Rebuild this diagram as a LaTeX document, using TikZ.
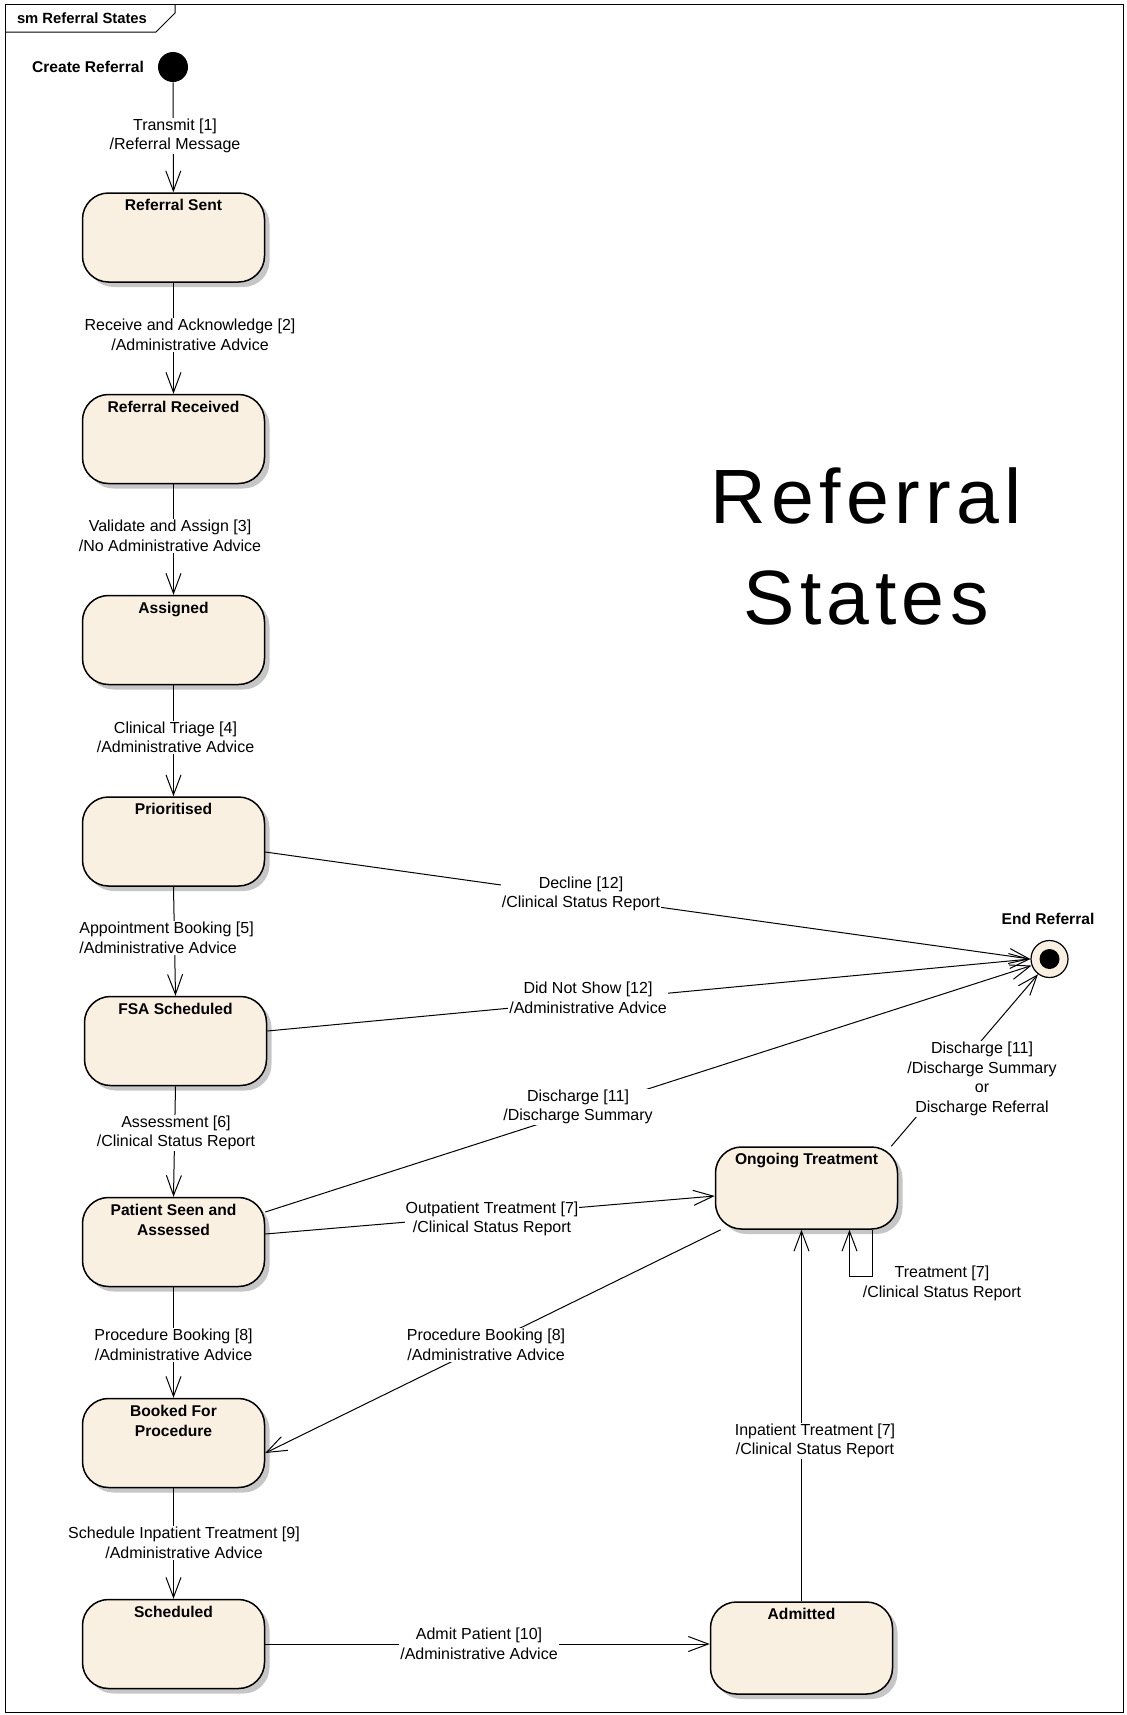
\documentclass[tikz,border=0pt]{standalone}
\usepackage{fontspec}
\setmainfont{Liberation Sans}
\usetikzlibrary{arrows.meta,shadows}

\definecolor{statefill}{RGB}{250,240,226}
\definecolor{shadowgray}{RGB}{198,198,198}

\begin{document}
\begin{tikzpicture}[x=0.5pt,y=-0.5pt,
  state/.style={draw=black, line width=0.75pt, fill=statefill,
    rounded corners=13pt, minimum width=91pt, minimum height=44.5pt, inner sep=0pt,
    drop shadow={shadow xshift=2.5pt, shadow yshift=-2.5pt, fill=shadowgray, opacity=1}},
  stitle/.style={anchor=north, inner sep=0pt, align=center,
    font=\fontsize{7.8}{10}\selectfont\bfseries},
  boldlabel/.style={inner sep=0pt, font=\fontsize{7.8}{10}\selectfont\bfseries},
  tlabel/.style={inner sep=0.5pt, fill=white, align=center,
    font=\fontsize{8}{9.75}\selectfont},
  trans/.style={draw=black, line width=0.5pt, -{Straight Barb[length=10pt,width=7.5pt]}},
  initial/.style={circle, fill=black, minimum size=15pt, inner sep=0pt},
  final/.style={circle, draw=black, line width=0.6pt, fill=statefill, minimum size=18.5pt, inner sep=0pt},
  finaldot/.style={circle, fill=black, minimum size=10pt, inner sep=0pt},
  bigtitle/.style={inner sep=0pt, anchor=base,
    font=\fontsize{38.5}{40}\selectfont\addfontfeature{LetterSpace=7}}
]
\useasboundingbox (0,0) rectangle (1126,1715);

% diagram frame with its name tab
\draw[line width=0.5pt] (5,4) rectangle (1123,1712);
\draw[line width=0.5pt] (5,32) -- (156,32) -- (175,13) -- (175,4);
\node[boldlabel, font=\fontsize{7.4}{9}\selectfont\bfseries] (frame-name) at (82,18) {sm Referral States};

% big heading
\node[bigtitle] (heading-a) at (866,523) {Referral};
\node[bigtitle] (heading-b) at (866,624) {States};

% pseudo-states
\node[initial] (init) at (173,67) {};
\node[boldlabel] (init-name) at (88,67) {Create Referral};
\node[final] (end) at (1049.5,959) {};
\node[finaldot] (end-dot) at (end) {};
\node[boldlabel] (end-name) at (1048,919) {End Referral};

% states
\node[state] (sent)   at (173.5,237.5) {};
\node[state] (recv)   at (173.5,439) {};
\node[state] (asg)    at (173.5,640) {};
\node[state] (prio)   at (173.5,841.5) {};
\node[state] (fsa)    at (175.5,1041) {};
\node[state] (seen)   at (173.5,1242) {};
\node[state] (booked) at (173.5,1443) {};
\node[state] (sched)  at (173.5,1644) {};
\node[state, minimum height=41pt] (ongo) at (806.5,1188) {};
\node[state, minimum height=46pt] (adm)  at (801.5,1648) {};

\node[stitle] (sent-t)   at ([yshift=-3.3pt]sent.north)   {Referral Sent};
\node[stitle] (recv-t)   at ([yshift=-3.3pt]recv.north)   {Referral Received};
\node[stitle] (asg-t)    at ([yshift=-3.3pt]asg.north)    {Assigned};
\node[stitle] (prio-t)   at ([yshift=-3.3pt]prio.north)   {Prioritised};
\node[stitle] (fsa-t)    at ([yshift=-3.3pt]fsa.north)    {FSA Scheduled};
\node[stitle] (seen-t)   at ([yshift=-3.3pt]seen.north)   {Patient Seen and\\Assessed};
\node[stitle] (booked-t) at ([yshift=-3.3pt]booked.north) {Booked For\\Procedure};
\node[stitle] (sched-t)  at ([yshift=-3.3pt]sched.north)  {Scheduled};
\node[stitle] (ongo-t)   at ([yshift=-3.3pt]ongo.north)   {Ongoing Treatment};
\node[stitle] (adm-t)    at ([yshift=-3.3pt]adm.north)    {Admitted};

% main referral path
\draw[trans] (init) -- (sent);
\draw[trans] (sent) -- (recv);
\draw[trans] (recv) -- (asg);
\draw[trans] (asg) -- (prio);
\draw[trans] (prio.south) -- (fsa.north);
\draw[trans] (fsa.south) -- (seen.north);
\draw[trans] (seen) -- (booked);
\draw[trans] (booked) -- (sched);

% transitions to the end state
\draw[trans] ([yshift=-5.25pt]prio.east) -- (end.west);
\draw[trans] ([yshift=5pt]fsa.east) -- (end.west);
\draw[trans] ([yshift=15pt]seen.east) -- (end.200);
\draw[trans] ([xshift=-3.5pt]ongo.north east) -- (end.233);

% treatment branch
\draw[trans] ([yshift=4pt]seen.east) -- ([yshift=-4pt]ongo.west);
\draw[trans] ([xshift=3pt]ongo.south west) -- ([yshift=-5pt]booked.east);
\draw[trans] (sched.east) -- (sched.east -| adm.west);
\draw[trans] (adm.north) -- (adm.north |- ongo.south);
\draw[trans] ([xshift=33pt]ongo.south) |- ([xshift=21.5pt,yshift=-23.3pt]ongo.south)
  -- ([xshift=21.5pt]ongo.south);

% transition labels
\node[tlabel] (l-transmit) at (175,136) {Transmit [1]\\/Referral Message};
\node[tlabel] (l-receive)  at (190,335) {Receive and Acknowledge [2]\\/Administrative Advice};
\node[tlabel] (l-validate) at (170,536) {Validate and Assign [3]\\/No Administrative Advice};
\node[tlabel] (l-triage)   at (175.5,737.5) {Clinical Triage [4]\\/Administrative Advice};
\node[tlabel, anchor=west, align=left] (l-appoint) at (78,938) {Appointment Booking [5]\\/Administrative Advice};
\node[tlabel] (l-assess)   at (176,1133) {Assessment [6]\\/Clinical Status Report};
\node[tlabel] (l-procv)    at (173.5,1345) {Procedure Booking [8]\\/Administrative Advice};
\node[tlabel] (l-schedip)  at (184,1543) {Schedule Inpatient Treatment [9]\\/Administrative Advice};
\node[tlabel] (l-decline)  at (581,894) {Decline [12]\\/Clinical Status Report};
\node[tlabel] (l-dns)      at (588,998) {Did Not Show [12]\\/Administrative Advice};
\node[tlabel] (l-disch1)   at (578,1107) {Discharge [11]\\/Discharge Summary};
\node[tlabel] (l-outpat)   at (492,1219) {Outpatient Treatment [7]\\/Clinical Status Report};
\node[tlabel] (l-disch2)   at (982,1079) {Discharge [11]\\/Discharge Summary\\or\\Discharge Referral};
\node[tlabel] (l-procd)    at (486,1345) {Procedure Booking [8]\\/Administrative Advice};
\node[tlabel] (l-inpat)    at (815,1441) {Inpatient Treatment [7]\\/Clinical Status Report};
\node[tlabel, fill=none] (l-treat) at (942,1283.5) {Treatment [7]\\/Clinical Status Report};
\node[tlabel] (l-admit)    at (479,1644) {Admit Patient [10]\\/Administrative Advice};
\end{tikzpicture}
\end{document}
